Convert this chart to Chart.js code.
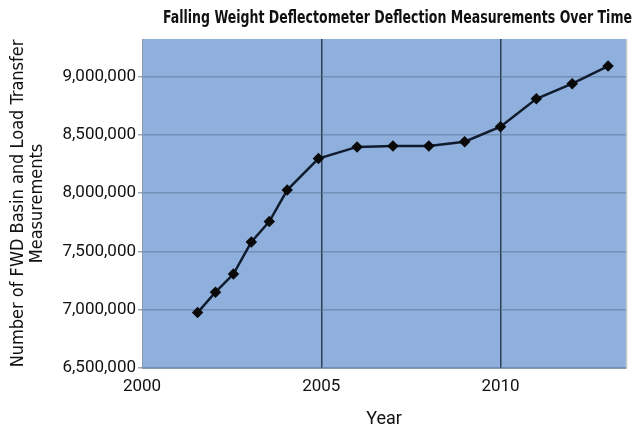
<!DOCTYPE html>
<html>
<head>
<meta charset="utf-8">
<script src="https://cdn.jsdelivr.net/npm/chart.js@4/dist/chart.umd.min.js"></script>
<style>
  html, body { margin: 0; padding: 0; background: #ffffff; }
  #wrap { width: 636px; height: 430px; }
</style>
</head>
<body>
<div id="wrap"><canvas id="fwd-chart" width="636" height="430"></canvas></div>
<script>
// FWD basin + load transfer measurement counts by year
const years = [2001.55, 2002.05, 2002.55, 2003.05, 2003.55, 2004.05, 2004.92,
               2006, 2007, 2008, 2009, 2010, 2011, 2012, 2013];
const measurements = [6975000, 7150000, 7305000, 7580000, 7755000, 8025000, 8295000,
                      8395000, 8403000, 8403000, 8440000, 8568000, 8808000, 8937000, 9088000];

const xTickValues = [2000, 2005, 2010];
const yTickValues = [6500000, 7000000, 7500000, 8000000, 8500000, 9000000];

const chartTitle = 'Falling Weight Deflectometer Deflection Measurements Over Time';
const yTitle = ['Number of FWD Basin and Load Transfer', 'Measurements'];
const xTitle = 'Year';

const plotFill = '#8fb0dc';
const gridBlue = 'rgba(85, 110, 145, 0.5)';
const yearLine = '#2e3f52';

// paints the blue plot area behind the grid
const plotBackground = {
    id: 'plotBackground',
    beforeDraw(chart) {
        const { ctx, chartArea: a } = chart;
        ctx.save();
        ctx.fillStyle = plotFill;
        ctx.fillRect(a.left, a.top, a.right - a.left, a.bottom - a.top);
        ctx.strokeStyle = '#c4c8cc';
        ctx.lineWidth = 1.5;
        ctx.beginPath();
        ctx.moveTo(a.right + 0.5, a.top);
        ctx.lineTo(a.right + 0.5, a.bottom);
        ctx.stroke();
        ctx.restore();
    }
};

// condensed bold heading over the plot, squeezed to its box width
const condensedTitle = {
    id: 'condensedTitle',
    afterDraw(chart) {
        const ctx = chart.ctx;
        ctx.save();
        ctx.font = 'bold 18px "DejaVu Sans Condensed", "DejaVu Sans", sans-serif';
        ctx.fillStyle = '#111111';
        ctx.textBaseline = 'middle';
        const w = ctx.measureText(chartTitle).width;
        const target = 469;
        ctx.translate(163, 18);
        ctx.scale(target / w, 1);
        ctx.fillText(chartTitle, 0, 0);
        ctx.restore();
    }
};

const tickFont = { family: 'Roboto, "Open Sans", sans-serif', size: 17 };

new Chart(document.getElementById('fwd-chart'), {
    type: 'line',
    data: {
        datasets: [{
            data: years.map((x, i) => ({ x: x, y: measurements[i] })),
            borderColor: '#101c2e',
            borderWidth: 2.5,
            pointStyle: 'rectRot',
            pointRadius: 4,
            pointBackgroundColor: '#0a0a0a',
            pointBorderColor: '#0a0a0a',
            tension: 0
        }]
    },
    options: {
        responsive: false,
        animation: false,
        layout: { padding: { top: 39, right: 10, left: 0, bottom: 0 } },
        plugins: {
            legend: { display: false },
            tooltip: { enabled: false }
        },
        scales: {
            x: {
                type: 'linear',
                min: 2000,
                max: 2013.5,
                afterFit(scale) { scale.height = 62; },
                afterBuildTicks(scale) { scale.ticks = xTickValues.map(v => ({ value: v })); },
                border: { display: true, color: '#8a97a6', width: 1 },
                grid: {
                    color: ctx => ctx.tick && ctx.tick.value === 2000 ? 'rgba(0,0,0,0)' : yearLine,
                    lineWidth: 1.5,
                    drawTicks: false
                },
                ticks: {
                    color: '#111111',
                    font: tickFont,
                    padding: 9,
                    maxRotation: 0,
                    callback: v => String(v)
                },
                title: {
                    display: true,
                    text: xTitle,
                    color: '#111111',
                    font: { family: 'Roboto, "Open Sans", sans-serif', size: 18 },
                    padding: { top: 0, bottom: 0 }
                }
            },
            y: {
                min: 6500000,
                max: 9320000,
                afterFit(scale) { scale.width = 142; },
                afterBuildTicks(scale) { scale.ticks = yTickValues.map(v => ({ value: v })); },
                border: { display: true, color: '#8a97a6', width: 1 },
                grid: {
                    color: gridBlue,
                    lineWidth: 1.5,
                    tickLength: 4,
                    tickColor: '#9aa6b4'
                },
                ticks: {
                    color: '#111111',
                    font: tickFont,
                    padding: 2,
                    callback: v => v.toLocaleString('en-US')
                },
                title: {
                    display: true,
                    text: yTitle,
                    color: '#111111',
                    font: { family: '"DejaVu Sans Condensed", "Liberation Sans Narrow", sans-serif', size: 18, lineHeight: 1.1 },
                    padding: { top: 8, bottom: 0 }
                }
            }
        }
    },
    plugins: [plotBackground, condensedTitle]
});
</script>
</body>
</html>
